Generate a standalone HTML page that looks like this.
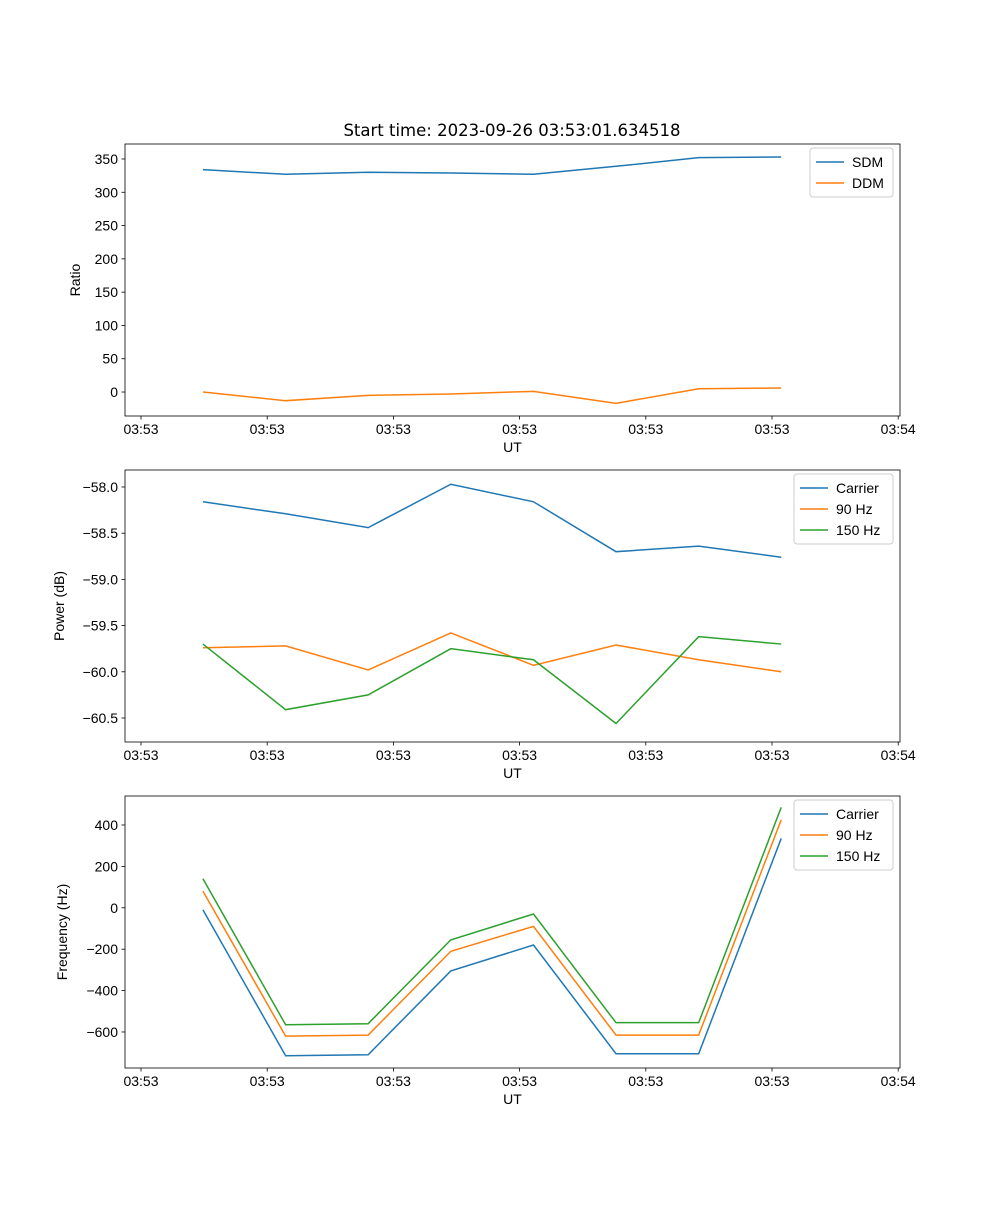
<!DOCTYPE html>
<html><head><meta charset="utf-8"><style>
body{margin:0;background:#fff}
svg text{font-family:"Liberation Sans","DejaVu Sans",sans-serif;font-size:14px;fill:#000}
</style></head><body>
<svg id="c" width="1000" height="1200" xmlns="http://www.w3.org/2000/svg"></svg>
<script>
const tickLabels=["03:53","03:53","03:53","03:53","03:53","03:53","03:54"];
const xVals=[0.491,1.146,1.80,2.455,3.11,3.764,4.419,5.073];
const sdm=[334,327,330,329,327,339,352,353];
const ddm=[0,-13,-5,-3,1,-17,5,6];
const pCarrier=[-58.16,-58.29,-58.44,-57.97,-58.16,-58.70,-58.64,-58.76];
const p90=[-59.74,-59.72,-59.98,-59.58,-59.93,-59.71,-59.87,-60.00];
const p150=[-59.70,-60.41,-60.25,-59.75,-59.87,-60.56,-59.62,-59.70];
const fCarrier=[-10,-715,-710,-305,-180,-705,-705,335];
const f90=[80,-620,-615,-210,-90,-615,-615,425];
const f150=[140,-565,-560,-155,-30,-555,-555,485];
const yTicks1=[0,50,100,150,200,250,300,350];
const yTicks2=[-60.5,-60.0,-59.5,-59.0,-58.5,-58.0];
const yTicks3=[-600,-400,-200,0,200,400];
const C=["#1f77b4","#ff7f0e","#2ca02c"];
const svg=document.getElementById('c');
const NS="http://www.w3.org/2000/svg";
function el(t,a,p){const e=document.createElementNS(NS,t);for(const k in a)e.setAttribute(k,a[k]);(p||svg).appendChild(e);return e;}
const L=125,R=900;
function xs(v){return 141+v*126.2;}
function panel(name,top,bottom,ymin,ymax,yt,fmt,ylabel,series,names,legW){
  const g=el('g',{});
  
  
  const ys=v=>bottom-(v-ymin)/(ymax-ymin)*(bottom-top);
  series.forEach((s,i)=>{
    const p=el('polyline',{points:s.map((v,j)=>xs(xVals[j])+','+ys(v)).join(' '),fill:'none',stroke:C[i],'stroke-width':1.5},g);
    
    
  });
  el('rect',{x:L,y:top,width:R-L,height:bottom-top,fill:'none',stroke:'#000','stroke-width':0.8},g);
  tickLabels.forEach((t,i)=>{const x=xs(i);
    el('line',{x1:x,x2:x,y1:bottom,y2:bottom+3.5,stroke:'#000','stroke-width':0.8},g);
    const tx=el('text',{x:x,y:bottom+18,'text-anchor':'middle'},g);tx.textContent=t;
    });
  yt.forEach(v=>{const y=ys(v);
    el('line',{x1:L-3.5,x2:L,y1:y,y2:y,stroke:'#000','stroke-width':0.8},g);
    const tx=el('text',{x:L-7,y:y+5,'text-anchor':'end'},g);tx.textContent=fmt(v);
    });
  const xl=el('text',{x:(L+R)/2,y:bottom+36,'text-anchor':'middle'},g);xl.textContent='UT';
  
  const yx=name==='ratio'?80:name==='power'?64:67;
  const yl=el('text',{x:yx,y:(top+bottom)/2,'text-anchor':'middle',transform:`rotate(-90 ${yx} ${(top+bottom)/2})`},g);yl.textContent=ylabel;
  
  const lg=el('g',{},g);
  
  const lx=R-7-legW, ly=top+4;
  el('rect',{x:lx,y:ly,width:legW,height:names.length*21+7,rx:3,fill:'#fff',stroke:'#ccc','stroke-width':1},lg);
  names.forEach((n,i)=>{const yy=ly+14+i*21;
    el('line',{x1:lx+6,x2:lx+34,y1:yy,y2:yy,stroke:C[i],'stroke-width':1.5},lg);
    const t=el('text',{x:lx+42,y:yy+5},lg);t.textContent=n;
    });
}
const minus=v=>String(v).replace('-','\u2212');
panel('ratio',144,416,-36,372.5,yTicks1,v=>minus(v),'Ratio',[sdm,ddm],['SDM','DDM'],83);
panel('power',470,742,-60.76,-57.816,yTicks2,v=>minus(v.toFixed(1)),'Power (dB)',[pCarrier,p90,p150],['Carrier','90 Hz','150 Hz'],99);
panel('frequency',796,1068,-774,540,yTicks3,v=>minus(v),'Frequency (Hz)',[fCarrier,f90,f150],['Carrier','90 Hz','150 Hz'],99);
const title=el('text',{x:512,y:136,'text-anchor':'middle',style:'font-family:"DejaVu Sans",sans-serif;font-size:16.5px'});
title.textContent='Start time: 2023-09-26 03:53:01.634518';


</script>
</body></html>
